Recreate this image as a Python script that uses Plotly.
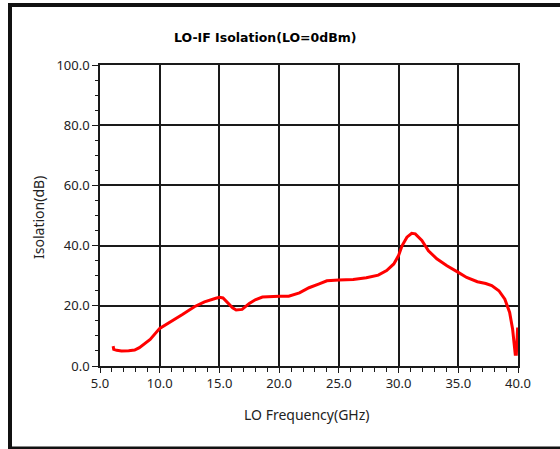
import plotly.graph_objects as go

freq_ghz = [6.1, 6.15, 6.4, 6.8, 7.4, 7.9, 8.3, 8.8, 9.2, 10.0, 10.8, 11.9, 12.9, 13.75,
            14.7, 15.0, 15.3, 15.55, 15.8, 16.1, 16.4, 16.9, 17.5, 18.0, 18.6, 19.2,
            20.0, 20.8, 21.7, 22.5, 22.9, 23.3, 24.0, 25.0, 26.2, 27.3, 28.3, 29.0,
            29.6, 30.0, 30.3, 30.7, 31.1, 31.4, 31.95, 32.5, 33.2, 34.05, 35.0, 35.7,
            36.6, 37.3, 37.8, 38.4, 38.9, 39.3, 39.55, 39.7, 39.77, 39.86, 39.9, 39.97]
isolation_db = [6.6, 5.5, 5.2, 5.0, 5.1, 5.3, 6.1, 7.5, 8.8, 12.5, 14.4, 17.1, 19.7, 21.3,
                22.5, 22.8, 22.6, 21.5, 20.4, 19.3, 18.6, 18.8, 20.8, 22.0, 22.9, 23.1,
                23.2, 23.2, 24.3, 26.0, 26.5, 27.2, 28.3, 28.6, 28.7, 29.3, 30.2, 31.7,
                33.9, 36.7, 40.0, 42.8, 44.1, 43.9, 41.7, 38.3, 35.6, 33.3, 31.1, 29.4,
                28.0, 27.4, 26.7, 25.0, 22.2, 17.8, 12.2, 6.7, 3.9, 3.9, 8.9, 12.8]

x_ticks = [5, 10, 15, 20, 25, 30, 35, 40]
y_ticks = [0, 20, 40, 60, 80, 100]

title_text = "LO-IF Isolation(LO=0dBm)"
x_title = "LO Frequency(GHz)"
y_title = "Isolation(dB)"

W, H = 560, 449
L, R, T, B = 100, 42, 65, 83
pw, ph = W - L - R, H - T - B

def px_x(px):
    return (px - L) / pw

def px_y(py):
    return (H - B - py) / ph

fig = go.Figure()
fig.add_trace(go.Scatter(x=freq_ghz, y=isolation_db, mode="lines",
                         line=dict(color="#ff0000", width=3), showlegend=False,
                         cliponaxis=True))

tickfont = dict(family="Noto Sans, Open Sans, sans-serif", size=13, color="#222222")
axis_common = dict(showgrid=True, gridcolor="#1a1a1a", gridwidth=1.5,
                   showline=True, linecolor="#1a1a1a", linewidth=1.5, mirror=True,
                   ticks="outside", tickcolor="#1a1a1a", tickwidth=1.2,
                   tickfont=tickfont, zeroline=False, tickformat=".1f")

fig.update_xaxes(range=[5, 40], tickvals=x_ticks, ticklen=5,
                 minor=dict(dtick=1, ticks="outside", ticklen=4, tickcolor="#1a1a1a",
                            tickwidth=1.2, showgrid=False),
                 **axis_common)
fig.update_yaxes(range=[0, 100], tickvals=y_ticks, ticklen=6,
                 minor=dict(dtick=5, ticks="outside", ticklen=3, tickcolor="#1a1a1a",
                            tickwidth=1.2, showgrid=False),
                 **axis_common)

fig.update_layout(
    width=W, height=H,
    margin=dict(l=L, r=R, t=T, b=B, pad=0),
    paper_bgcolor="white", plot_bgcolor="white",
    annotations=[
        dict(text="<b>" + title_text + "</b>", xref="paper", yref="paper",
             x=px_x(265), y=px_y(37), xanchor="center", yanchor="middle",
             showarrow=False,
             font=dict(family="DejaVu Sans, sans-serif", size=12.5, color="#000000")),
        dict(text=x_title, xref="paper", yref="paper",
             x=px_x(307), y=px_y(414), xanchor="center", yanchor="middle",
             showarrow=False,
             font=dict(family="Noto Sans, Open Sans, sans-serif", size=14, color="#222222")),
        dict(text=y_title, xref="paper", yref="paper", textangle=-90,
             x=px_x(38), y=px_y(218), xanchor="center", yanchor="middle",
             showarrow=False,
             font=dict(family="Noto Sans, Open Sans, sans-serif", size=14, color="#222222")),
    ],
    shapes=[
        dict(type="rect", xref="paper", yref="paper",
             x0=px_x(10), x1=px_x(600), y0=px_y(448.5), y1=px_y(5),
             line=dict(color="#111111", width=4), fillcolor="rgba(0,0,0,0)", layer="below"),
    ],
)

fig.write_html("out.html", config={"displayModeBar": False},
               post_script="document.body.style.margin='0';document.body.style.overflow='hidden';")
